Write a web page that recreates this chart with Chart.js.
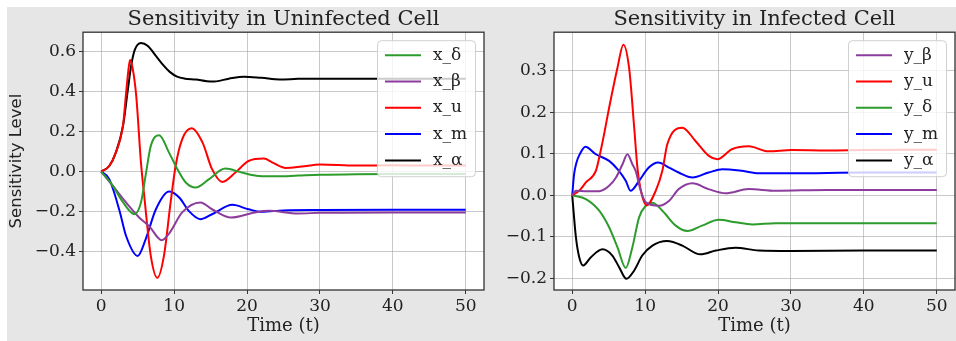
<!DOCTYPE html>
<html>
<head>
<meta charset="utf-8">
<script src="https://cdn.jsdelivr.net/npm/chart.js@4.4.1/dist/chart.umd.min.js"></script>
<style>
    html, body { margin: 0; padding: 0; background: #fff; }
    #panel { position: absolute; left: 7px; top: 7px; width: 949px; height: 334px; background: #e6e6e6; }
    .box { position: absolute; top: 0; height: 334px; }
</style>
</head>
<body>
<div id="panel">
    <div class="box" style="left:0;width:480px"><canvas id="chartX"></canvas></div>
    <div class="box" style="left:480px;width:469px"><canvas id="chartY"></canvas></div>
</div>
<script>
// ============ DATA ============
// Uninfected cell (left)
const xDeltaT = [0, 1.6, 3, 4.55, 5.45, 6.15, 6.8, 7.95, 9.3, 10.45, 11.6, 12.95, 14.8, 17, 19.3, 21.6, 24, 27, 30, 35, 40, 45, 50];
const xDeltaV = [0, -0.072, -0.155, -0.214, -0.155, -0.005, 0.129, 0.182, 0.095, 0.012, -0.055, -0.08, -0.038, 0.015, -0.005, -0.022, -0.024, -0.02, -0.016, -0.013, -0.012, -0.012, -0.012];

const xBetaT = [0, 1.6, 3.4, 5.2, 6.6, 8.3, 9.4, 11.1, 13.6, 15.2, 17.8, 21.1, 23, 27, 30, 40, 50];
const xBetaV = [0, -0.072, -0.155, -0.23, -0.275, -0.344, -0.306, -0.205, -0.155, -0.189, -0.231, -0.205, -0.197, -0.21, -0.207, -0.205, -0.205];

const xUT = [0, 1.1, 2, 3, 3.4, 3.7, 3.95, 4.3, 4.8, 5.45, 5.9, 6.8, 7.7, 8.6, 9.5, 10.2, 11.1, 12.4, 13.9, 15.2, 16.6, 18.4, 20.2, 22.3, 23.5, 25.3, 27.5, 30, 35, 40, 45, 50];
const xUV = [0, 0.028, 0.095, 0.235, 0.39, 0.5, 0.56, 0.52, 0.38, 0.045, -0.122, -0.423, -0.533, -0.423, -0.16, 0.028, 0.162, 0.217, 0.145, 0.012, -0.052, -0.005, 0.053, 0.065, 0.045, 0.018, 0.025, 0.035, 0.03, 0.032, 0.03, 0.03];

const xMT = [0, 1.1, 2.5, 3.4, 5, 6.1, 7.5, 9.3, 10.7, 12, 13.6, 15.2, 18, 20.2, 22, 25, 30, 40, 50];
const xMV = [0, -0.038, -0.195, -0.322, -0.423, -0.339, -0.189, -0.1, -0.13, -0.197, -0.239, -0.214, -0.167, -0.189, -0.202, -0.195, -0.193, -0.192, -0.192];

const xAlphaT = [0, 1.1, 2, 3, 3.6, 4.1, 4.6, 5.45, 6.4, 7.5, 8.6, 9.4, 10.4, 11.5, 13, 14.5, 15.5, 17.5, 19.6, 22, 24.5, 27, 30, 35, 40, 45, 50];
const xAlphaV = [0, 0.028, 0.095, 0.232, 0.396, 0.53, 0.61, 0.645, 0.63, 0.58, 0.53, 0.5, 0.476, 0.466, 0.462, 0.453, 0.452, 0.466, 0.476, 0.47, 0.462, 0.465, 0.466, 0.465, 0.465, 0.465, 0.465];

// Infected cell (right)
const yBetaT = [0, 0.5, 2, 3.7, 5.06, 6, 6.9, 7.57, 8.25, 8.7, 9.4, 10.1, 11.9, 13.3, 14.6, 16.5, 18.7, 21, 24.2, 27.9, 35, 50];
const yBetaV = [0, 0.011, 0.01, 0.01, 0.023, 0.043, 0.075, 0.099, 0.075, 0.059, 0.011, -0.017, -0.025, -0.013, 0.015, 0.029, 0.015, 0.005, 0.015, 0.011, 0.013, 0.013];

const yUT = [0, 1, 1.87, 3.24, 3.7, 4.4, 5.06, 6.2, 7.02, 7.8, 8.5, 8.94, 9.5, 10.2, 11.45, 12.36, 13.04, 15.1, 16.9, 18.74, 19.9, 21.9, 24.2, 26.9, 30.1, 35, 40, 50];
const yUV = [0, 0.012, 0.031, 0.059, 0.091, 0.15, 0.211, 0.307, 0.363, 0.307, 0.163, 0.067, 0.005, -0.024, 0.011, 0.059, 0.123, 0.163, 0.131, 0.095, 0.087, 0.111, 0.118, 0.106, 0.109, 0.108, 0.109, 0.11];

const yDeltaT = [0, 1.87, 3.7, 5.06, 6.2, 7.34, 8.25, 9.17, 10.1, 11, 12.36, 14.2, 15.8, 17.8, 20.1, 22.4, 24.7, 27.9, 35, 50];
const yDeltaV = [0, -0.009, -0.037, -0.077, -0.125, -0.175, -0.125, -0.053, -0.025, -0.018, -0.037, -0.073, -0.086, -0.073, -0.059, -0.065, -0.07, -0.067, -0.067, -0.067];

const yMT = [0, 0.25, 0.6, 1.0, 1.8, 3.24, 5.06, 6.2, 7.34, 8.0, 9.17, 10.5, 11.8, 13.27, 14.6, 16.5, 18.7, 20.6, 23.3, 25.6, 30, 40, 50];
const yMV = [0, 0.05, 0.08, 0.098, 0.117, 0.099, 0.083, 0.063, 0.035, 0.011, 0.035, 0.067, 0.079, 0.067, 0.055, 0.043, 0.055, 0.063, 0.059, 0.053, 0.053, 0.055, 0.055];

const yAlphaT = [0, 0.5, 0.96, 1.5, 2.56, 4.15, 5.5, 6.43, 7.43, 8.5, 9.6, 11, 13, 15.1, 16.9, 17.6, 19.7, 22.4, 25.6, 30, 40, 50];
const yAlphaV = [0, -0.1, -0.149, -0.169, -0.149, -0.13, -0.145, -0.173, -0.201, -0.181, -0.145, -0.121, -0.11, -0.121, -0.139, -0.142, -0.133, -0.126, -0.133, -0.134, -0.133, -0.133];

const xTicks = [0, 10, 20, 30, 40, 50];
const yTicksLeft = [-0.4, -0.2, 0, 0.2, 0.4, 0.6];
const yTicksRight = [-0.2, -0.1, 0, 0.1, 0.2, 0.3];

const COLORES = { green: '#2c9c2c', purple: '#8c3c9c', red: '#ff0000', blue: '#0000ff', black: '#000000' };
const SERIF = "'DejaVu Serif', serif";

// ============ HELPERS ============
function puntos(ts, vs) {
    return ts.map((t, i) => ({ x: t, y: vs[i] }));
}

function serie(label, ts, vs, color) {
    return {
        label: label,
        data: puntos(ts, vs),
        borderColor: color,
        backgroundColor: color,
        borderWidth: 2,
        pointRadius: 0,
        cubicInterpolationMode: 'monotone',
        fill: false
    };
}

function fmtTick(v) {
    return v.toFixed(1).replace('-', '\u2212');
}

// white plot background
const fondoBlanco = {
    id: 'fondoBlanco',
    beforeDraw(chart) {
        const { ctx, chartArea: a } = chart;
        ctx.save();
        ctx.fillStyle = '#fff';
        ctx.fillRect(a.left, a.top, a.right - a.left, a.bottom - a.top);
        ctx.restore();
    }
};

// frame + legend drawn inside the plot, matplotlib style
const marcoLeyenda = {
    id: 'marcoLeyenda',
    afterDatasetsDraw(chart) {
        const { ctx, chartArea: a } = chart;
        ctx.save();
        ctx.strokeStyle = '#333';
        ctx.lineWidth = 1.3;
        ctx.strokeRect(a.left, a.top, a.right - a.left, a.bottom - a.top);

        const w = 98, h = 136;
        const bx = a.right - 9 - w, by = a.top + 8;
        ctx.beginPath();
        ctx.roundRect(bx + 0.5, by + 0.5, w, h, 4);
        ctx.fillStyle = 'rgba(255,255,255,0.8)';
        ctx.fill();
        ctx.strokeStyle = '#d0d0d0';
        ctx.lineWidth = 1;
        ctx.stroke();

        ctx.font = '17px ' + SERIF;
        ctx.textBaseline = 'middle';
        ctx.textAlign = 'left';
        chart.data.datasets.forEach((ds, i) => {
            const y = by + 15 + i * 26.3;
            ctx.strokeStyle = ds.borderColor;
            ctx.lineWidth = 2;
            ctx.beginPath();
            ctx.moveTo(bx + 8, y);
            ctx.lineTo(bx + 44, y);
            ctx.stroke();
            ctx.fillStyle = '#222';
            ctx.fillText(ds.label, bx + 56, y);
        });
        ctx.restore();
    }
};

function crearGrafico(id, titulo, datasets, yMin, yMax, yTicks, yAncho, derecha, yTitulo) {
    const tickFont = { family: SERIF, size: 17 };
    return new Chart(document.getElementById(id), {
        type: 'line',
        data: { datasets: datasets },
        options: {
            responsive: true,
            maintainAspectRatio: false,
            animation: false,
            layout: { padding: { left: 0, right: derecha, top: 0, bottom: 0 } },
            plugins: {
                legend: { display: false },
                tooltip: { enabled: false },
                title: {
                    display: true,
                    text: titulo,
                    fullSize: false,
                    color: '#222',
                    font: { family: SERIF, size: 21, weight: 'normal', lineHeight: 1.2 },
                    padding: { top: 0, bottom: 0 }
                }
            },
            scales: {
                x: {
                    type: 'linear',
                    min: -2.5,
                    max: 52.5,
                    afterBuildTicks: s => { s.ticks = xTicks.map(v => ({ value: v })); },
                    afterFit: s => { s.height = 51; },
                    border: { display: false },
                    grid: { color: 'rgba(165,165,165,0.6)', lineWidth: 1, tickColor: '#333', tickLength: 4 },
                    ticks: { color: '#222', font: tickFont, padding: 2, maxRotation: 0 },
                    title: {
                        display: true, text: 'Time (t)', color: '#222',
                        font: { family: SERIF, size: 18, lineHeight: 1.2 },
                        padding: { top: 0, bottom: 4 }
                    }
                },
                y: {
                    min: yMin,
                    max: yMax,
                    afterBuildTicks: s => { s.ticks = yTicks.map(v => ({ value: v })); },
                    afterFit: s => { s.width = yAncho; },
                    border: { display: false },
                    grid: { color: 'rgba(165,165,165,0.6)', lineWidth: 1, tickColor: '#333', tickLength: 4 },
                    ticks: { color: '#222', font: tickFont, padding: 3, callback: v => fmtTick(v) },
                    title: {
                        display: !!yTitulo, text: yTitulo || '', color: '#222',
                        font: { family: "'DejaVu Sans', sans-serif", size: 16.5, lineHeight: 1.2 },
                        padding: { top: 0, bottom: 0 }
                    }
                }
            }
        },
        plugins: [fondoBlanco, marcoLeyenda]
    });
}

crearGrafico('chartX', 'Sensitivity in Uninfected Cell', [
    serie('x_\u03b4', xDeltaT, xDeltaV, COLORES.green),
    serie('x_\u03b2', xBetaT, xBetaV, COLORES.purple),
    serie('x_u', xUT, xUV, COLORES.red),
    serie('x_m', xMT, xMV, COLORES.blue),
    serie('x_\u03b1', xAlphaT, xAlphaV, COLORES.black)
], -0.594, 0.699, yTicksLeft, 76, 3, 'Sensitivity Level');

crearGrafico('chartY', 'Sensitivity in Infected Cell', [
    serie('y_\u03b2', yBetaT, yBetaV, COLORES.purple),
    serie('y_u', yUT, yUV, COLORES.red),
    serie('y_\u03b4', yDeltaT, yDeltaV, COLORES.green),
    serie('y_m', yMT, yMV, COLORES.blue),
    serie('y_\u03b1', yAlphaT, yAlphaV, COLORES.black)
], -0.228, 0.393, yTicksRight, 67, 1, null);
</script>
</body>
</html>
